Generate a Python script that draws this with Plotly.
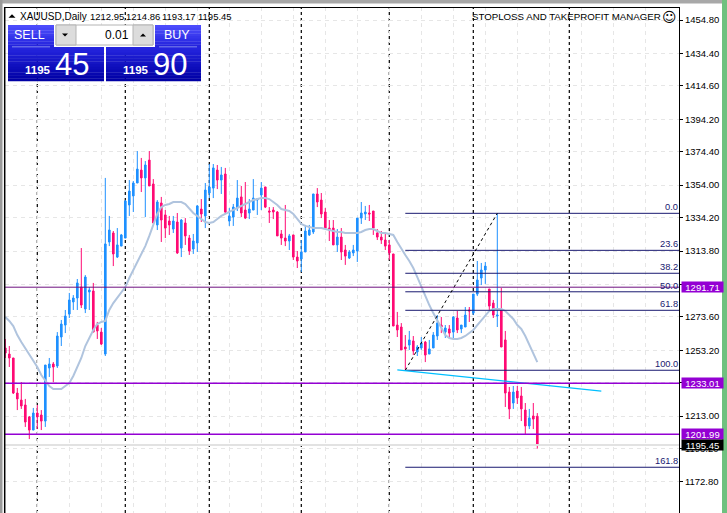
import plotly.graph_objects as go

W, H = 727, 513
L, R, T, B = 5, 679, 7, 513

highs = [1260.1,1255.8,1248.5,1230.2,1233.8,1223.5,1213.1,1218.0,1219.8,1216.7,1244.2,1248.5,1246.0,1264.3,1271.7,1277.8,1288.2,1286.9,1296.7,1315.6,
1299.1,1291.8,1294.3,1270.5,1266.8,1358.4,1335.2,1326.0,1327.8,1324.2,1344.9,1357.1,1356.5,1374.8,1370.6,1368.7,1374.8,1357.7,1344.9,1346.8,
1338.8,1335.2,1335.2,1337.0,1333.3,1333.9,1323.6,1324.2,1341.9,1345.5,1355.3,1366.9,1366.9,1366.3,1365.1,1364.5,1340.0,1342.5,1357.1,1353.5,
1355.9,1345.5,1357.7,1346.1,1355.9,1352.9,1340.6,1340.6,1338.2,1326.6,1341.9,1324.2,1323.6,1313.8,1320.5,1329.7,1329.7,1348.6,1352.2,1349.2,
1340.0,1332.7,1332.7,1327.2,1327.8,1317.5,1314.4,1317.5,1333.9,1343.7,1341.3,1341.9,1338.2,1327.2,1326.0,1325.4,1320.5,1312.0,1276.6,1269.8,
1262.5,1265.0,1261.9,1256.4,1261.3,1258.9,1259.5,1264.3,1274.7,1273.5,1268.6,1268.6,1274.1,1277.2,1268.6,1279.6,1279.6,1287.5,1307.7,1306.5,
1307.1,1290.6,1283.9,1336.4,1291.2,1265.0,1230.8,1231.4,1231.4,1230.8,1221.0,1217.4,1221.0,1214.86]
lows = [1248.5,1243.0,1226.5,1216.7,1217.4,1206.4,1199.0,1204.5,1205.1,1204.5,1206.4,1236.9,1233.8,1242.4,1255.8,1263.7,1272.9,1277.8,1277.8,1279.0,
1275.9,1277.8,1264.3,1260.1,1256.4,1249.7,1316.8,1304.6,1309.5,1316.8,1321.7,1335.2,1337.6,1355.3,1349.8,1334.5,1353.5,1330.9,1326.6,1319.3,
1321.7,1323.6,1324.8,1312.0,1310.1,1317.5,1311.4,1312.0,1313.2,1331.5,1327.8,1346.1,1346.1,1351.6,1348.6,1336.4,1329.1,1329.1,1338.2,1334.5,
1333.3,1333.3,1338.8,1335.8,1338.8,1340.0,1330.9,1333.3,1323.0,1317.5,1316.8,1314.4,1308.3,1303.4,1301.0,1313.2,1323.0,1324.2,1340.6,1333.9,
1327.8,1319.9,1317.5,1313.2,1308.3,1305.3,1308.9,1310.7,1307.1,1330.3,1332.7,1332.1,1323.6,1320.5,1318.1,1314.4,1308.3,1268.0,1261.3,1253.4,
1241.2,1253.4,1250.3,1249.7,1253.4,1246.0,1250.9,1254.6,1259.5,1263.7,1260.7,1260.7,1260.7,1263.7,1263.7,1267.4,1270.5,1274.7,1286.3,1293.0,
1293.7,1277.8,1272.9,1267.4,1255.2,1218.6,1211.2,1217.4,1220.4,1210.0,1202.1,1205.1,1205.1,1193.17]
opens = [1254.6,1250.9,1248.5,1227.1,1222.8,1219.8,1212.5,1204.5,1214.9,1213.7,1210.0,1242.4,1244.8,1243.6,1261.3,1268.6,1275.3,1282.7,1285.1,1291.8,
1278.4,1288.8,1289.4,1268.6,1264.3,1250.9,1319.3,1324.8,1310.1,1316.8,1321.7,1341.9,1347.4,1355.3,1363.2,1358.4,1369.3,1354.7,1329.7,1343.1,
1335.8,1332.1,1327.2,1331.5,1315.6,1330.9,1321.7,1315.0,1318.7,1339.4,1335.2,1349.2,1352.2,1363.2,1357.1,1360.8,1332.1,1334.5,1340.0,1346.8,
1338.8,1337.0,1338.8,1344.9,1348.0,1352.9,1338.2,1338.8,1337.6,1324.2,1321.7,1319.9,1323.6,1310.1,1308.9,1313.2,1323.6,1325.4,1348.6,1344.9,
1337.6,1327.8,1327.8,1317.5,1322.3,1314.4,1309.5,1312.6,1313.8,1333.9,1336.4,1337.0,1338.2,1324.8,1322.3,1320.5,1317.5,1312.0,1268.6,1267.4,
1255.2,1256.4,1258.9,1252.2,1254.6,1258.2,1250.9,1254.6,1261.9,1268.6,1264.3,1266.2,1264.3,1272.9,1266.2,1267.4,1277.8,1275.9,1287.5,1297.3,
1302.2,1290.6,1282.0,1274.1,1277.8,1259.5,1227.7,1221.0,1228.3,1225.3,1216.7,1207.0,1213.1,1212.95]
closes = [1251.5,1248.5,1227.1,1223.5,1219.2,1209.4,1204.5,1214.9,1212.5,1210.0,1244.2,1244.8,1243.0,1261.9,1269.2,1274.1,1283.9,1285.1,1294.3,1280.8,
1297.9,1290.0,1264.3,1265.0,1257.0,1318.1,1326.6,1312.0,1317.5,1323.6,1344.3,1350.4,1355.3,1363.8,1358.4,1366.3,1353.5,1330.9,1343.7,1332.7,
1327.8,1329.7,1332.1,1312.6,1332.7,1323.0,1313.8,1319.9,1341.3,1336.4,1351.0,1352.9,1364.5,1357.1,1360.2,1337.6,1335.2,1340.6,1346.1,1337.0,
1333.9,1339.4,1346.1,1345.5,1352.2,1340.6,1337.6,1337.6,1323.0,1321.7,1319.9,1323.0,1310.1,1307.7,1313.2,1326.0,1326.6,1348.6,1343.7,1336.4,
1327.8,1326.6,1317.5,1322.3,1313.2,1310.7,1313.2,1314.4,1333.9,1337.0,1337.6,1336.4,1327.8,1322.3,1320.5,1316.8,1312.6,1268.0,1265.6,1253.4,
1254.0,1259.5,1252.8,1255.2,1257.6,1250.3,1254.0,1262.5,1269.8,1267.4,1266.8,1263.7,1273.5,1265.6,1268.6,1274.7,1277.2,1287.5,1296.1,1302.2,
1304.6,1280.2,1274.7,1274.7,1255.2,1227.1,1217.4,1227.7,1224.1,1217.4,1207.0,1211.9,1211.2,1195.45]
ma = [1273.5,1271.1,1268.0,1262.5,1258.2,1254.6,1250.9,1247.3,1243.0,1238.1,1234.4,1231.4,1229.6,1229.6,1229.6,1231.4,1233.2,1237.5,1243.0,1248.5,
1255.8,1260.7,1265.6,1269.2,1270.5,1271.1,1277.8,1282.0,1285.1,1288.8,1291.8,1297.3,1302.2,1307.1,1312.0,1316.8,1323.0,1329.7,1336.4,1340.6,
1341.9,1342.5,1343.7,1343.7,1343.7,1342.5,1340.0,1337.0,1335.2,1333.3,1331.5,1330.9,1331.5,1333.3,1335.2,1336.4,1337.6,1338.8,1340.0,1341.3,
1342.5,1343.7,1344.9,1345.5,1346.1,1346.1,1345.5,1343.7,1341.9,1339.4,1338.8,1338.2,1336.4,1333.3,1330.3,1329.1,1328.4,1327.8,1327.8,1327.8,
1327.2,1326.6,1326.0,1325.4,1325.4,1324.8,1324.8,1324.8,1324.8,1325.4,1326.6,1327.2,1327.2,1326.0,1324.8,1324.8,1324.2,1323.6,1319.3,1315.0,
1311.4,1307.7,1303.4,1297.9,1291.8,1285.7,1280.8,1275.9,1271.7,1267.4,1262.5,1260.7,1260.1,1260.1,1260.7,1261.9,1263.7,1265.6,1268.6,1271.7,
1274.7,1277.2,1278.4,1278.4,1278.4,1277.2,1274.7,1272.3,1268.6,1266.2,1261.9,1256.4,1250.9,1246.0]

tick_vals = [1454.8,1434.4,1414.6,1394.2,1374.4,1354.0,1334.2,1313.8,1293.4,1273.6,1253.2,1233.4,1213.0,1193.2,1172.8]
tick_text = ["1454.80","1434.40","1414.60","1394.20","1374.40","1354.00","1334.20","1313.80","1293.40","1273.60","1253.20","1233.40","1213.00","1193.20","1172.80"]
separators = [8,30,51,74,96,117,141]
grid_x = list(range(0,161,8))

fib_labels = ["0.0","23.6","38.2","50.0","61.8","100.0","161.8"]
fib_prices = [1336.8,1314.2,1300.2,1288.9,1277.6,1241.0,1181.8]
fib_start = 100
diag_x = [100,123]
diag_y = [1241.0,1336.8]
trend_x = [98,149]
trend_y = [1241.2,1228.3]
hlines = [1291.71,1233.01,1201.99]
hline_widths = [1,1.5,1.5]
hline_colors = ["#6E1080","#9400D3","#9400D3"]
bid = 1195.45

BLUE, PINK = "#1E90FF", "#FF0A74"
N = len(closes)
xs = list(range(N))
XL, XR = (L-5.3)/4, (R-5.3)/4
YT, YB = 1467.008-0.6104*T, 1467.008-0.6104*B

def px(x): return (x-L)/(R-L)
def py(y): return 1-(y-T)/(B-T)

fig = go.Figure()
fig.add_trace(go.Scatter(x=[XL-2,XR+2], y=[bid,bid], mode="lines", line=dict(color="#E2E2E2",width=2), hoverinfo="skip"))
fig.add_trace(go.Candlestick(x=xs, open=opens, high=highs, low=lows, close=closes,
    increasing=dict(line=dict(color=BLUE,width=1),fillcolor=BLUE),
    decreasing=dict(line=dict(color=PINK,width=1),fillcolor=PINK),
    whiskerwidth=0, hoverinfo="skip"))
fig.add_trace(go.Scatter(x=xs, y=ma, mode="lines", line=dict(color="#B0C4DE",width=2), hoverinfo="skip"))
for p in fib_prices:
    fig.add_trace(go.Scatter(x=[fib_start,XR+2], y=[p,p], mode="lines", line=dict(color="#191970",width=1), hoverinfo="skip"))
fig.add_trace(go.Scatter(x=diag_x, y=diag_y, mode="lines", line=dict(color="black",width=1,dash="3px,3px"), hoverinfo="skip"))
fig.add_trace(go.Scatter(x=trend_x, y=trend_y, mode="lines", line=dict(color="#00BFFF",width=1.2), hoverinfo="skip"))
for p,w,c in zip(hlines,hline_widths,hline_colors):
    fig.add_trace(go.Scatter(x=[XL-2,XR+2], y=[p,p], mode="lines", line=dict(color=c,width=w), hoverinfo="skip"))

shapes = []
for s in separators:
    shapes.append(dict(type="line", xref="x", yref="paper", x0=s, x1=s, y0=0, y1=1, layer="below",
                       line=dict(color="black",width=1.2,dash="3px,3px")))

def rect(x0,y0,x1,y1,color,line=None):
    shapes.append(dict(type="rect", xref="paper", yref="paper", x0=px(x0), x1=px(x1), y0=py(y0), y1=py(y1),
                       fillcolor=color, line=dict(width=1 if line else 0, color=line or color)))
def band(x0,y0,x1,y1,c0,c1,n):
    h=(y1-y0)/n
    for i in range(n):
        t=i/(n-1)
        c=[round(a+(b-a)*t) for a,b in zip(c0,c1)]
        rect(x0,y0+i*h,x1,y0+(i+1)*h+0.3,f"rgb({c[0]},{c[1]},{c[2]})")
def tri(cx,cy,up,s=3,color="black"):
    d=-1 if up else 1
    shapes.append(dict(type="path", xref="paper", yref="paper", layer="above", line=dict(width=0), fillcolor=color,
        path=f"M {px(cx-s)} {py(cy-d*s/2)} L {px(cx+s)} {py(cy-d*s/2)} L {px(cx)} {py(cy+d*s/2)} Z"))

rect(0,0,W,3.5,"#A8A8A8")
rect(0,0,2.5,H,"#9A9A9A")
rect(722,0,W,H,"#6FC17F")
shapes.append(dict(type="line",xref="paper",yref="paper",x0=px(4.5),x1=px(R),y0=py(7.5),y1=py(7.5),line=dict(color="black",width=1)))
shapes.append(dict(type="line",xref="paper",yref="paper",x0=px(4.7),x1=px(4.7),y0=py(7),y1=py(H),line=dict(color="black",width=1.5)))
band(8,25,54,47,(76,76,252),(36,36,222),8)
band(8,47,104,81,(36,36,222),(0,0,165),12)
band(155,25,201,47,(76,76,252),(36,36,222),8)
band(106,47,201,81,(36,36,222),(0,0,165),12)
rect(12,46.5,50,47.2,"#9FA8F0")
rect(159,46.5,197,47.2,"#9FA8F0")
rect(56,25,153,45,"white","#B4B4B4")
rect(56,25,76,45,"#DCDCDC","#B4B4B4")
rect(133,25,153,45,"#DCDCDC","#B4B4B4")
tri(65,35,False)
tri(143,35,True)
tri(12,16,True,3.5)

def txt(x,y,s,size,color="black",anchor="left",font="Liberation Sans",**kw):
    return dict(xref="paper",yref="paper",x=px(x),y=py(y),text=s,showarrow=False,xanchor=anchor,yanchor="middle",
                font=dict(family=font,size=size,color=color),borderpad=0,borderwidth=0,**kw)
ann = [
    txt(20,16,"XAUUSD,Daily",10),
    txt(90,16,"1212.95",9.5),txt(126,16,"1214.86",9.5),txt(162,16,"1193.17",9.5),txt(198,16,"1195.45",9.5),
    txt(472,16,"STOPLOSS AND TAKEPROFIT MANAGER",9.7),
    txt(669,17,"☺",14,anchor="center",font="DejaVu Sans"),
    txt(30,35,"SELL",12.5,"white","center"),
    txt(177,35,"BUY",12.5,"white","center"),
    txt(129,35,"0.01",12,"black","right"),
    txt(25,70,"<b>1195</b>",11.5,"white"),
    txt(55,64,"45",31,"white"),
    txt(123,70,"<b>1195</b>",11.5,"white"),
    txt(153,64,"90",31,"white"),
    txt(686,516,"1152.60",9.5),
]
for lab,p in zip(fib_labels,fib_prices):
    ann.append(dict(xref="paper",yref="y",x=px(678.5),y=p,text=lab,showarrow=False,xanchor="right",yanchor="bottom",
                    font=dict(family="Liberation Sans",size=9.3,color="#191970"),borderpad=0))
for p,c in [(1291.71,"#9400D3"),(1233.01,"#9400D3"),(1201.99,"#9400D3"),(1195.45,"black")]:
    ann.append(dict(xref="paper",yref="y",x=px(681),y=p,text=f"{p:.2f}",showarrow=False,xanchor="left",yanchor="middle",
                    width=41,height=10,bgcolor=c,align="center",borderpad=0,
                    font=dict(family="Liberation Sans",size=9.5,color="white")))

fig.update_layout(
    width=W,height=H,margin=dict(l=L,r=W-R,t=T,b=H-B,autoexpand=False),
    paper_bgcolor="white",plot_bgcolor="white",showlegend=False,boxgap=0.42,
    shapes=shapes,annotations=ann,
    xaxis=dict(range=[XL,XR],rangeslider=dict(visible=False),tickmode="array",tickvals=grid_x,showticklabels=False,ticks="",
               showgrid=True,gridcolor="#E6E6E6",griddash="4px,4px",gridwidth=1,zeroline=False,showline=False),
    yaxis=dict(range=[YB,YT],side="right",tickmode="array",tickvals=tick_vals,ticktext=tick_text,ticks="outside",ticklen=3,
               tickcolor="black",tickwidth=1,showline=True,linecolor="black",linewidth=1,zeroline=False,
               showgrid=True,gridcolor="#E6E6E6",griddash="4px,4px",gridwidth=1,
               tickfont=dict(family="Liberation Sans",size=9.5,color="black")),
)
fig.write_html("out.html",config=dict(displayModeBar=False),
               post_script="document.body.style.margin='0';document.body.style.overflow='hidden';")
